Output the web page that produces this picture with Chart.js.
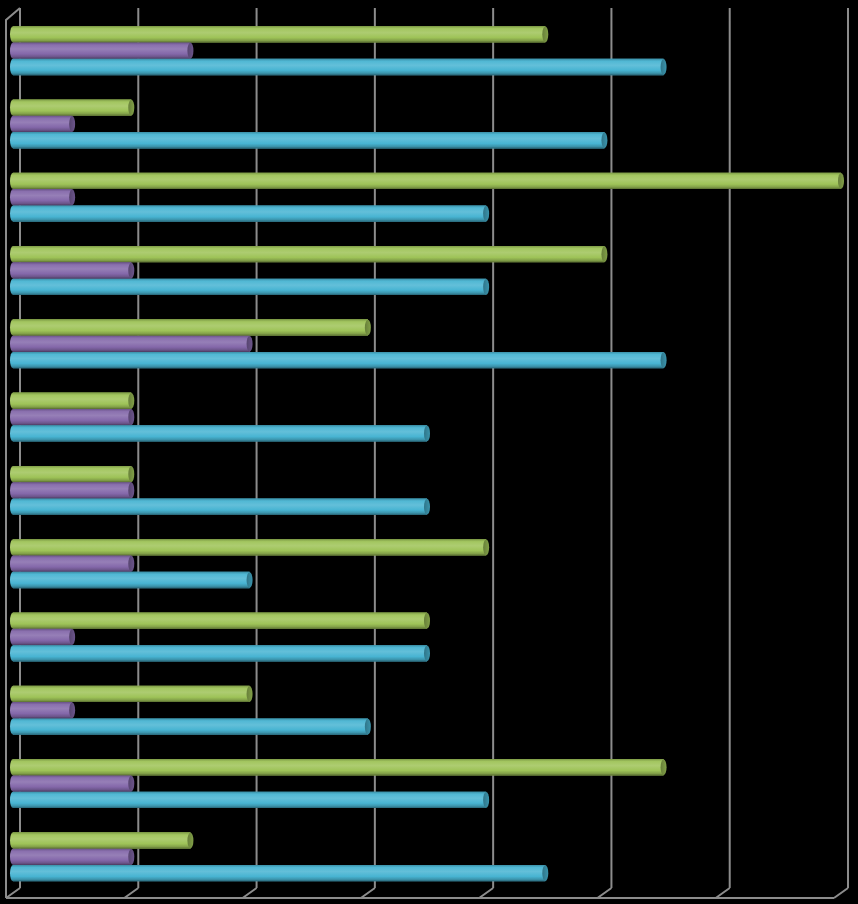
<!DOCTYPE html>
<html>
<head>
<meta charset="utf-8">
<script src="https://cdn.jsdelivr.net/npm/chart.js@4/dist/chart.umd.min.js"></script>
<style>
  html, body { margin: 0; padding: 0; background: #000; }
  #wrap { width: 858px; height: 904px; }
</style>
</head>
<body>
<div id="wrap"><canvas id="c" width="858" height="904"></canvas></div>
<script>
const categories = ['1','2','3','4','5','6','7','8','9','10','11','12'];
const greenValues  = [9, 2, 14, 10, 6, 2, 2, 8, 7, 4, 11, 3];
const purpleValues = [3, 1, 1, 2, 4, 2, 2, 2, 1, 1, 2, 2];
const blueValues   = [11, 10, 8, 8, 11, 7, 7, 4, 7, 6, 8, 9];
const xTicks = [0, 2, 4, 6, 8, 10, 12, 14];

const seriesColors = [
  { base: [158, 195, 88] },
  { base: [132, 104, 170] },
  { base: [72, 180, 210] }
];

function shade(rgb, f) {
  const c = rgb.map(v => Math.max(0, Math.min(255, Math.round(f >= 1 ? v + (255 - v) * (f - 1) : v * f))));
  return 'rgb(' + c.join(',') + ')';
}

const bgPlugin = {
  id: 'bg',
  beforeDraw(chart) {
    const ctx = chart.ctx;
    ctx.save();
    ctx.fillStyle = '#000';
    ctx.fillRect(0, 0, chart.width, chart.height);
    ctx.restore();
  }
};

const DX = 7, DY = 5;
const gridPlugin = {
  id: 'grid3d',
  beforeDatasetsDraw(chart) {
    const ctx = chart.ctx, xs = chart.scales.x, a = chart.chartArea;
    const backTop = a.top - 6, backBot = a.bottom - 5.5, frontBot = a.bottom + 4.5;
    ctx.save();
    ctx.strokeStyle = '#8c8c8c';
    ctx.lineWidth = 2;
    ctx.beginPath();
    xTicks.forEach(v => {
      const px = xs.getPixelForValue(v);
      const bx = px + DX, fx = px - DX;
      ctx.moveTo(bx, backTop); ctx.lineTo(bx, backBot);
      ctx.moveTo(bx, backBot); ctx.lineTo(fx, frontBot);
    });
    const f0 = xs.getPixelForValue(0) - DX, fN = xs.getPixelForValue(14) - DX;
    const b0 = xs.getPixelForValue(0) + DX;
    ctx.moveTo(f0, frontBot); ctx.lineTo(fN, frontBot);
    ctx.moveTo(f0, frontBot); ctx.lineTo(f0, backTop + 12);
    ctx.lineTo(b0, backTop);
    ctx.stroke();
    ctx.restore();
  }
};

const cylPlugin = {
  id: 'cyl',
  afterDatasetsDraw(chart) {
    const ctx = chart.ctx;
    chart.data.datasets.forEach((ds, di) => {
      const meta = chart.getDatasetMeta(di);
      const rgb = seriesColors[di].base;
      meta.data.forEach(el => {
        const p = el.getProps(['x', 'y', 'base', 'height'], true);
        const h = p.height, top = p.y - h / 2, bot = p.y + h / 2;
        const x0 = p.base, x1 = p.x;
        const rx = 3;
        const g = ctx.createLinearGradient(0, top, 0, bot);
        g.addColorStop(0, shade(rgb, 0.8));
        g.addColorStop(0.15, shade(rgb, 1.05));
        g.addColorStop(0.4, shade(rgb, 1.15));
        g.addColorStop(0.7, shade(rgb, 1.0));
        g.addColorStop(0.88, shade(rgb, 0.82));
        g.addColorStop(1, shade(rgb, 0.55));
        ctx.save();
        ctx.beginPath();
        ctx.ellipse(x0, p.y, rx, h / 2, 0, Math.PI / 2, Math.PI * 1.5);
        ctx.lineTo(x1, top);
        ctx.lineTo(x1, bot);
        ctx.closePath();
        ctx.fillStyle = g;
        ctx.fill();
        ctx.beginPath();
        ctx.ellipse(x1, p.y, rx, h / 2 - 0.3, 0, 0, Math.PI * 2);
        const cg = ctx.createLinearGradient(x1 - rx, 0, x1 + rx, 0);
        cg.addColorStop(0, shade(rgb, 0.65));
        cg.addColorStop(1, shade(rgb, 0.82));
        ctx.fillStyle = cg;
        ctx.fill();
        ctx.restore();
      });
    });
  }
};

new Chart(document.getElementById('c'), {
  type: 'bar',
  data: {
    labels: categories,
    datasets: [
      { label: 'Series 1', data: greenValues,  backgroundColor: 'rgb(158,195,88)' },
      { label: 'Series 2', data: purpleValues, backgroundColor: 'rgb(132,104,170)' },
      { label: 'Series 3', data: blueValues,   backgroundColor: 'rgb(72,180,210)' }
    ]
  },
  options: {
    indexAxis: 'y',
    responsive: false,
    animation: false,
    devicePixelRatio: 1,
    layout: { padding: { left: 13, right: 17, top: 14, bottom: 10.5 } },
    datasets: { bar: { categoryPercentage: 0.668, barPercentage: 1.0, borderWidth: 0 } },
    scales: {
      x: { min: 0, max: 14, display: false },
      y: { display: false }
    },
    plugins: { legend: { display: false }, tooltip: { enabled: false } }
  },
  plugins: [bgPlugin, gridPlugin, cylPlugin]
});
</script>
</body>
</html>
